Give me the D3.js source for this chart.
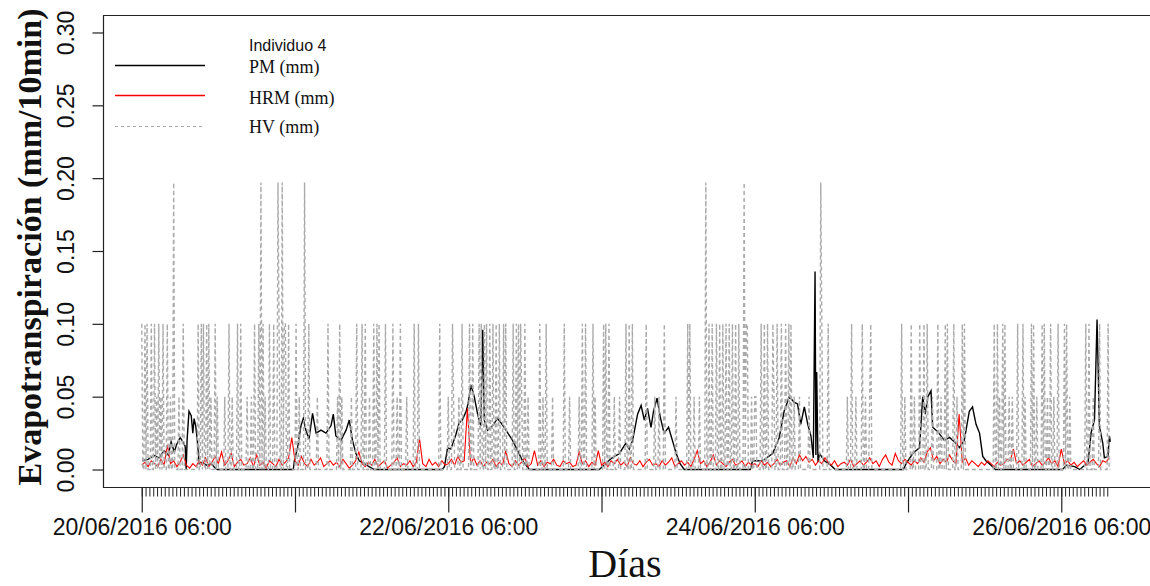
<!DOCTYPE html>
<html>
<head>
<meta charset="utf-8">
<script src="https://cdn.jsdelivr.net/npm/d3@7"></script>
<style>
body { margin: 0; background: #fff; }
svg { display: block; }
</style>
</head>
<body>
<script>
// time is in hours after 20/06/2016 06:00, values in mm per 10 min
var startDate = new Date(2016, 5, 20, 6, 0);
var lastHour = 151.67;

// PM (black): daytime humps, zero at night
var pmHours = [0.08, 1.0, 1.96, 2.7, 3.5, 4.15, 4.6, 5.1, 5.4, 6.0, 6.3, 6.8, 6.96, 7.1, 7.4, 7.75, 8.0, 8.2, 8.45, 8.7, 9.0, 9.5, 10.1, 10.9, 11.5, 11.8,
    23.73, 23.9, 24.4, 24.93, 25.3, 25.7, 26.2, 26.75, 27.3, 28.07, 28.85, 29.63, 30.0, 30.4, 31.2, 32.0, 32.5, 33.0, 33.55, 34.06, 34.85, 35.6, 36.4,
    47.06, 47.4, 47.9, 48.4, 49.2, 49.7, 50.2, 50.8, 51.1, 51.56, 52.07, 52.6, 53.1, 53.4, 53.64, 54.16, 54.94, 55.7, 56.26, 57.04, 58.07, 58.86, 59.64, 60.17, 60.7,
    71.65, 72.17, 73.5, 74.8, 75.8, 76.35, 76.87, 77.65, 78.2, 78.7, 79.2, 79.75, 80.15, 80.7, 81.2, 81.8, 82.5, 83.1, 83.7, 84.3, 84.96,
    95.3, 95.66, 97.2, 98.8, 99.84, 100.6, 101.4, 102.2, 102.7, 103.2, 103.76, 104.3, 104.8, 105.17, 105.44, 105.57, 105.7, 105.9, 106.15, 106.9, 107.9, 108.6,
    119.26, 119.7, 120.74, 121.8, 122.3, 122.7, 123.1, 123.6, 123.86, 124.65, 125.7, 126.5, 127.25, 128.05, 128.8, 129.6, 130.1, 130.65, 131.2, 131.7, 132.2, 133.0, 133.7,
    144.2, 144.8, 146.1, 146.9, 148.2, 148.66, 149.2, 149.6, 149.8, 149.96, 150.5, 150.75, 151.3, 151.55, 151.67];
var pmValues = [0.006, 0.007, 0.0096, 0.008, 0.013, 0.01, 0.019, 0.012, 0.0165, 0.022, 0.02, 0.016, 0.0, 0.02, 0.04, 0.037, 0.025, 0.035, 0.03, 0.02, 0.004, 0.005, 0.003, 0.004, 0.001, 0,
    0, 0.006, 0.015, 0.030, 0.035, 0.027, 0.021, 0.0385, 0.025, 0.027, 0.025, 0.030, 0.038, 0.023, 0.02, 0.027, 0.034, 0.02, 0.011, 0.006, 0.004, 0.002, 0,
    0, 0.002, 0.015, 0.014, 0.024, 0.032, 0.034, 0.04, 0.045, 0.058, 0.05, 0.038, 0.03, 0.096, 0.034, 0.027, 0.03, 0.035, 0.032, 0.027, 0.02, 0.013, 0.006, 0.003, 0,
    0, 0.002, 0.0075, 0.011, 0.018, 0.014, 0.02, 0.038, 0.044, 0.034, 0.042, 0.029, 0.04, 0.049, 0.036, 0.025, 0.029, 0.02, 0.011, 0.004, 0,
    0, 0.006, 0.006, 0.011, 0.022, 0.04, 0.05, 0.046, 0.045, 0.031, 0.043, 0.031, 0.023, 0.008, 0.136, 0.01, 0.067, 0.005, 0.011, 0.006, 0.003, 0,
    0, 0.004, 0.011, 0.015, 0.05, 0.038, 0.05, 0.054, 0.029, 0.026, 0.02, 0.022, 0.019, 0.015, 0.02, 0.04, 0.043, 0.031, 0.025, 0.009, 0.006, 0.003, 0,
    0, 0.003, 0.002, 0, 0.005, 0.025, 0.034, 0.103, 0.065, 0.03, 0.018, 0.008, 0.009, 0.023, 0.019];

// HRM (red): half-hourly, one array per day starting 06:00
var hrm0620 = [0.003, 0.005, 0.002, 0.006, 0.004, 0.002, 0.007, 0.003, 0.017, 0.004, 0.006, 0.002, 0.005, 0.010, 0.003, 0.001, 0.004, 0.002, 0.006, 0.003, 0.008, 0.002, 0.005, 0.009,
    0.004, 0.012, 0.003, 0.006, 0.011, 0.002, 0.005, 0.007, 0.003, 0.004, 0.008, 0.002, 0.010, 0.003, 0.005, 0.001, 0.006, 0.004, 0.002, 0.007, 0.003, 0.005, 0.008, 0.022];
var hrm0621 = [0.006, 0.003, 0.009, 0.004, 0.002, 0.007, 0.003, 0.005, 0.008, 0.002, 0.004, 0.006, 0.003, 0.005, 0.002, 0.007, 0.004, 0.001, 0.003, 0.006, 0.012, 0.004, 0.002, 0.005,
    0.003, 0.007, 0.002, 0.004, 0.006, 0.001, 0.003, 0.005, 0.008, 0.002, 0.004, 0.003, 0.006, 0.002, 0.005, 0.021, 0.004, 0.002, 0.007, 0.003, 0.005, 0.002, 0.006, 0.003];
var hrm0622 = [0.004, 0.007, 0.003, 0.009, 0.005, 0.006, 0.042, 0.004, 0.008, 0.003, 0.006, 0.002, 0.005, 0.004, 0.007, 0.002, 0.005, 0.003, 0.013, 0.004, 0.002, 0.006, 0.003, 0.005,
    0.008, 0.002, 0.004, 0.013, 0.003, 0.006, 0.002, 0.005, 0.004, 0.007, 0.003, 0.002, 0.006, 0.004, 0.005, 0.002, 0.003, 0.012, 0.004, 0.006, 0.002, 0.005, 0.003, 0.013];
var hrm0623 = [0.003, 0.005, 0.002, 0.006, 0.004, 0.007, 0.003, 0.005, 0.002, 0.008, 0.004, 0.003, 0.006, 0.002, 0.005, 0.007, 0.003, 0.004, 0.002, 0.006, 0.003, 0.005, 0.008, 0.002,
    0.004, 0.006, 0.003, 0.005, 0.002, 0.007, 0.013, 0.004, 0.006, 0.002, 0.005, 0.010, 0.003, 0.006, 0.004, 0.002, 0.005, 0.007, 0.003, 0.004, 0.006, 0.002, 0.005, 0.003];
var hrm0624 = [0.004, 0.002, 0.006, 0.003, 0.005, 0.002, 0.004, 0.007, 0.003, 0.005, 0.006, 0.002, 0.008, 0.004, 0.010, 0.006, 0.009, 0.005, 0.007, 0.003, 0.006, 0.004, 0.008, 0.005,
    0.003, 0.006, 0.002, 0.004, 0.005, 0.003, 0.007, 0.002, 0.004, 0.006, 0.003, 0.005, 0.008, 0.004, 0.006, 0.002, 0.007, 0.010, 0.005, 0.003, 0.011, 0.006, 0.004, 0.007];
var hrm0625 = [0.005, 0.003, 0.006, 0.004, 0.008, 0.005, 0.012, 0.015, 0.006, 0.009, 0.004, 0.007, 0.005, 0.010, 0.006, 0.004, 0.038, 0.005, 0.008, 0.003, 0.006, 0.004, 0.002, 0.005,
    0.003, 0.006, 0.004, 0.002, 0.005, 0.003, 0.004, 0.007, 0.006, 0.014, 0.004, 0.006, 0.003, 0.005, 0.007, 0.002, 0.004, 0.006, 0.003, 0.005, 0.008, 0.004, 0.006, 0.002];
var hrm0626 = [0.014, 0.004, 0.006, 0.003, 0.005, 0.002, 0.004, 0.006, 0.003, 0.005, 0.007, 0.004, 0.002, 0.006, 0.005, 0.008];

// HV (grey dashed): bucket-like events, zero between them
var hvHours = [0.03, 0.44, 0.81, 1.44, 1.96, 2.63, 3.41, 4.04, 4.93, 6.5, 8.9, 9.27, 9.68, 10.15, 10.57, 11.51, 13.7, 15.0, 15.54, 17.73, 18.4, 18.67, 18.92, 19.97, 20.6,
    21.27, 21.54, 21.96, 22.32, 22.58, 22.99, 24.15, 25.45, 26.23, 29.1, 30.93, 33.7, 34.58, 34.96, 36.41, 36.77, 37.2, 38.14, 39.39, 40.49, 42.68, 43.3, 46.59,
    48.68, 50.24, 51.29, 51.81, 52.86, 53.13, 53.64, 54.0, 54.42, 54.94, 55.47, 56.0, 56.62, 57.04, 58.18, 58.6, 59.01, 59.39, 60.06, 62.26, 63.3, 66.17, 69.04,
    69.46, 70.6, 72.28, 72.7, 73.22, 75.84, 76.35, 76.87, 78.97, 81.83, 85.48, 85.86, 88.25, 88.77, 89.4, 89.93, 90.45, 90.96, 91.5, 92.01, 92.53, 93.06, 93.58,
    94.36, 94.63, 94.88, 96.98, 97.49, 98.01, 98.8, 99.42, 100.11, 100.89, 101.41, 101.68, 106.37, 106.53, 107.57, 111.23, 112.8, 114.2, 119.06, 120.47, 121.77,
    122.56, 123.07, 124.64, 125.84, 126.2, 127.1, 128.55, 128.82, 133.52, 134.03, 134.82, 135.24, 137.16, 137.95, 139.26, 139.67, 141.08, 141.35, 142.4, 143.43,
    144.48, 144.75, 147.88, 148.4, 149.96, 151.26,
    2.27, 3.05, 4.46, 5.87, 10.88, 11.82, 13.08, 14.17, 16.52, 17.15, 19.34, 24.67, 27.49, 30.62, 31.4, 32.81, 35.63, 40.0, 41.57, 48.05, 48.83, 49.61, 59.48,
    60.58, 62.88, 64.29, 66.95, 68.52, 71.03, 74.0, 74.79, 80.27, 81.05, 83.71, 86.53, 87.31, 95.46, 95.93, 96.24, 99.06, 102.19, 102.98, 104.54, 110.49, 111.9,
    113.31, 113.94, 119.58, 120.99, 123.81, 125.22, 127.72, 134.3, 135.86, 136.33, 138.36, 140.24, 141.81, 142.9, 145.25, 149.0];
var hvValues = [0.1, 0.1, 0.1, 0.1, 0.1, 0.1, 0.1, 0.1, 0.197, 0.1, 0.1, 0.1, 0.1, 0.1, 0.1, 0.1, 0.1, 0.1, 0.1, 0.1, 0.1, 0.197, 0.1, 0.1, 0.1,
    0.197, 0.1, 0.197, 0.1, 0.1, 0.1, 0.1, 0.197, 0.1, 0.1, 0.1, 0.1, 0.1, 0.1, 0.1, 0.1, 0.1, 0.1, 0.1, 0.1, 0.1, 0.1, 0.1,
    0.1, 0.1, 0.1, 0.1, 0.1, 0.1, 0.1, 0.1, 0.1, 0.1, 0.1, 0.1, 0.1, 0.1, 0.1, 0.1, 0.1, 0.1, 0.1, 0.1, 0.1, 0.1, 0.1,
    0.1, 0.1, 0.1, 0.1, 0.1, 0.1, 0.1, 0.1, 0.1, 0.1, 0.1, 0.1, 0.197, 0.1, 0.1, 0.1, 0.1, 0.1, 0.1, 0.1, 0.1, 0.1, 0.1,
    0.197, 0.1, 0.1, 0.1, 0.1, 0.1, 0.1, 0.1, 0.1, 0.1, 0.1, 0.1, 0.197, 0.1, 0.1, 0.1, 0.1, 0.1, 0.1, 0.1, 0.1,
    0.1, 0.1, 0.1, 0.1, 0.1, 0.1, 0.1, 0.1, 0.1, 0.1, 0.1, 0.1, 0.1, 0.1, 0.1, 0.1, 0.1, 0.1, 0.1, 0.1,
    0.1, 0.1, 0.1, 0.1, 0.1, 0.1,
    0.05, 0.05, 0.05, 0.05, 0.05, 0.05, 0.05, 0.05, 0.05, 0.05, 0.05, 0.05, 0.05, 0.05, 0.05, 0.05, 0.05, 0.05, 0.05, 0.05, 0.05, 0.05, 0.05,
    0.05, 0.05, 0.05, 0.05, 0.05, 0.05, 0.05, 0.05, 0.05, 0.05, 0.05, 0.05, 0.05, 0.05, 0.05, 0.05, 0.05, 0.05, 0.05, 0.05, 0.05, 0.05,
    0.05, 0.05, 0.05, 0.05, 0.05, 0.05, 0.05, 0.05, 0.05, 0.05, 0.05, 0.05, 0.05, 0.05, 0.05, 0.05];

var yTicks = [0, 0.05, 0.10, 0.15, 0.20, 0.25, 0.30];
var majorTickHours = [0, 24, 48, 72, 96, 120, 144];
var xTickLabels = ["20/06/2016 06:00", "", "22/06/2016 06:00", "", "24/06/2016 06:00", "", "26/06/2016 06:00"];
var legendNames = ["PM (mm)", "HRM (mm)", "HV (mm)"];
var legendTitle = "Individuo 4";

function toDate(h)
{
    return new Date(startDate.getTime() + h * 3600000);
}

var svg = d3.select("body").append("svg")
    .attr("width", 1150)
    .attr("height", 586);

var pad = lastHour * 0.04;
var x = d3.scaleTime()
    .domain([toDate(-pad), toDate(lastHour + pad)])
    .range([103, 1149]);
var y = d3.scaleLinear()
    .domain([-0.012, 0.312])
    .range([487, 15]);

// series
var pmSeries = pmHours.map(function(h, i) { return [h, pmValues[i]]; });
var hrmAll = [].concat(hrm0620, hrm0621, hrm0622, hrm0623, hrm0624, hrm0625, hrm0626);
var hrmSeries = hrmAll.map(function(v, i) { return [i * 0.5, v]; });

var nSteps = Math.round(lastHour * 6);
var hvGrid = new Array(nSteps + 1).fill(0);
hvHours.forEach(function(h, i)
{
    var k = Math.round(h * 6);
    hvGrid[k] = Math.max(hvGrid[k], hvValues[i]);
});
var hvSeries = hvGrid.map(function(v, k) { return [k / 6, v]; });

var line = d3.line()
    .x(function(d) { return x(toDate(d[0])); })
    .y(function(d) { return y(d[1]); });

svg.append("clipPath").attr("id", "plotclip")
    .append("rect")
    .attr("x", 103).attr("y", 15).attr("width", 1046).attr("height", 472);

var plot = svg.append("g").attr("clip-path", "url(#plotclip)");

plot.append("path")
    .datum(pmSeries)
    .attr("d", line)
    .attr("fill", "none")
    .attr("stroke", "#000")
    .attr("stroke-width", 1.4);

plot.append("path")
    .datum(hrmSeries)
    .attr("d", line)
    .attr("fill", "none")
    .attr("stroke", "#ff0000")
    .attr("stroke-width", 1.1);

plot.append("path")
    .datum(hvSeries)
    .attr("d", line)
    .attr("fill", "none")
    .attr("stroke", "#aaaaaa")
    .attr("stroke-width", 1.4)
    .attr("stroke-dasharray", "4,3");

// box (right side runs off the page)
svg.append("path")
    .attr("d", "M1152,15.5H103.5V487.5H1152")
    .attr("fill", "none")
    .attr("stroke", "#222")
    .attr("stroke-width", 1.2);

// y axis
var yAxis = svg.append("g")
    .attr("transform", "translate(103.5,0)")
    .call(d3.axisLeft(y).tickValues(yTicks).tickSize(11).tickFormat(d3.format(".2f")));
yAxis.select(".domain").remove();
yAxis.selectAll("line").attr("stroke", "#222").attr("stroke-width", 1.2);
yAxis.selectAll("text")
    .attr("x", null)
    .attr("dy", "0.36em")
    .attr("text-anchor", "middle")
    .attr("transform", "translate(-37.5,0) rotate(-90)")
    .style("font-family", "'Liberation Sans', Arial, sans-serif")
    .style("font-size", "23px")
    .attr("fill", "#111");

// x axis: minor ticks every 36 min, major ticks daily
var minorHours = d3.range(0, lastHour, 0.6);
var xMinor = svg.append("g")
    .attr("transform", "translate(0,487.5)")
    .call(d3.axisBottom(x).tickValues(minorHours.map(toDate)).tickSize(9).tickFormat(""));
xMinor.select(".domain").remove();
xMinor.selectAll("line").attr("stroke", "#222");

var xMajor = svg.append("g")
    .attr("transform", "translate(0,487.5)")
    .call(d3.axisBottom(x)
        .tickValues(majorTickHours.map(toDate))
        .tickSize(25)
        .tickPadding(6)
        .tickFormat(function(d, i) { return xTickLabels[i]; }));
xMajor.select(".domain").remove();
xMajor.selectAll("line").attr("stroke", "#222").attr("stroke-width", 1.2);
xMajor.selectAll("text")
    .style("font-family", "'Liberation Sans', Arial, sans-serif")
    .style("font-size", "23px")
    .attr("fill", "#111");

// axis titles
svg.append("text")
    .attr("transform", "translate(41,247) rotate(-90)")
    .attr("text-anchor", "middle")
    .style("font-family", "'Liberation Serif', 'Times New Roman', serif")
    .style("font-weight", "bold")
    .style("font-size", "34px")
    .attr("fill", "#111")
    .text("Evapotranspiración (mm/10min)");

svg.append("text")
    .attr("x", 625)
    .attr("y", 577)
    .attr("text-anchor", "middle")
    .style("font-family", "'Liberation Serif', 'Times New Roman', serif")
    .style("font-size", "40px")
    .attr("fill", "#111")
    .text("Días");

// legend
var legend = svg.append("g");
legend.append("text")
    .attr("x", 249).attr("y", 51)
    .style("font-family", "'Liberation Sans', Arial, sans-serif")
    .style("font-size", "16px")
    .attr("fill", "#111")
    .text(legendTitle);

var legendY = [65.5, 95.5, 126.5];
var legendTextY = [73, 104, 133];
var legendStroke = ["#000", "#ff0000", "#aaaaaa"];
var legendDash = [null, null, "3,3"];

legendNames.forEach(function(name, i)
{
    legend.append("line")
        .attr("x1", 115).attr("x2", 205)
        .attr("y1", legendY[i]).attr("y2", legendY[i])
        .attr("stroke", legendStroke[i])
        .attr("stroke-width", i == 2 ? 1 : 1.4)
        .attr("stroke-dasharray", legendDash[i]);
    legend.append("text")
        .attr("x", 249).attr("y", legendTextY[i])
        .style("font-family", "'Liberation Serif', 'Times New Roman', serif")
        .style("font-size", "18px")
        .attr("fill", "#111")
        .text(name);
});
</script>
</body>
</html>
